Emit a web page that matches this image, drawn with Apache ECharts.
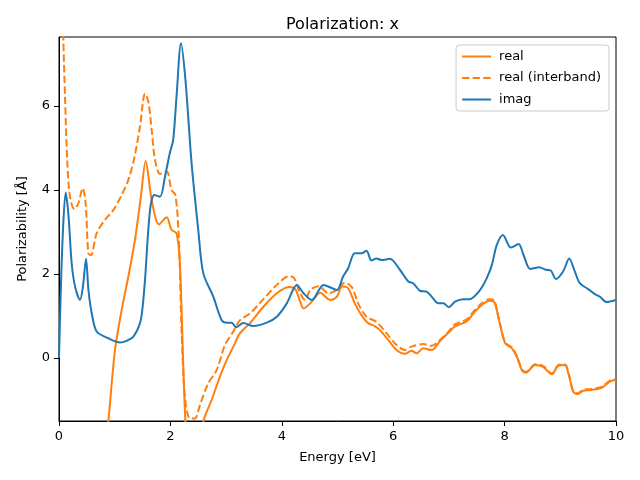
<!DOCTYPE html>
<html>
<head>
<meta charset="utf-8">
<script src="https://cdn.jsdelivr.net/npm/echarts@6/dist/echarts.min.js"></script>
<style>html,body{margin:0;padding:0;background:#fff}#c{width:640px;height:480px}</style>
</head>
<body>
<div id="c"></div>
<script>
const titleText = "Polarization: x";
const xLabel = "Energy [eV]";
const yLabel = "Polarizability [Å]";
const seriesNames = ["real", "real (interband)", "imag"];

const realData = [[0.80,-2.6],[0.886,-1.52],[1.005,0.19],[1.125,1.14],[1.245,1.94],[1.364,2.81],[1.47,3.84],[1.556,4.69],[1.664,3.76],[1.795,3.18],[1.933,3.35],[2.02,3.05],[2.11,2.97],[2.17,2.26],[2.23,-0.12],[2.27,-1.52],[2.35,-3],[2.5,-2.5],[2.59,-1.52],[2.74,-1.0],[2.89,-0.44],[3.01,-0.05],[3.13,0.27],[3.25,0.59],[3.43,0.83],[3.67,1.22],[3.91,1.54],[4.12,1.69],[4.24,1.64],[4.33,1.34],[4.39,1.18],[4.51,1.30],[4.69,1.55],[4.87,1.38],[4.99,1.46],[5.08,1.70],[5.19,1.66],[5.31,1.30],[5.43,1.02],[5.55,0.83],[5.67,0.76],[5.76,0.67],[5.91,0.43],[6.06,0.19],[6.21,0.10],[6.33,0.17],[6.42,0.11],[6.54,0.23],[6.69,0.19],[6.84,0.40],[6.99,0.60],[7.11,0.75],[7.32,0.87],[7.44,1.06],[7.59,1.26],[7.73,1.36],[7.81,1.34],[7.90,0.90],[8.01,0.35],[8.13,0.23],[8.22,0.03],[8.31,-0.29],[8.38,-0.35],[8.55,-0.17],[8.69,-0.21],[8.85,-0.39],[8.96,-0.19],[9.08,-0.17],[9.16,-0.44],[9.23,-0.80],[9.31,-0.86],[9.41,-0.78],[9.56,-0.76],[9.74,-0.71],[9.89,-0.56],[9.99,-0.52]];

const interbandData = [[0.05,10],[0.077,7.65],[0.108,6.22],[0.15,4.63],[0.197,3.84],[0.275,3.54],[0.347,3.68],[0.425,4.04],[0.479,3.68],[0.527,2.49],[0.575,2.45],[0.676,2.97],[0.826,3.29],[0.975,3.52],[1.125,3.88],[1.245,4.24],[1.35,4.75],[1.454,5.51],[1.544,6.29],[1.604,6.10],[1.664,5.43],[1.724,4.71],[1.813,4.38],[1.933,4.44],[2.02,4.0],[2.09,3.88],[2.15,2.89],[2.20,0.67],[2.26,-0.92],[2.35,-1.44],[2.44,-1.44],[2.53,-1.12],[2.68,-0.60],[2.83,-0.29],[2.98,0.31],[3.13,0.63],[3.25,0.90],[3.43,1.06],[3.67,1.40],[3.91,1.74],[4.12,1.94],[4.21,1.92],[4.33,1.54],[4.42,1.38],[4.51,1.62],[4.66,1.71],[4.84,1.54],[4.99,1.62],[5.13,1.79],[5.26,1.68],[5.37,1.30],[5.52,0.98],[5.70,0.86],[5.88,0.59],[6.06,0.31],[6.21,0.19],[6.33,0.27],[6.54,0.33],[6.69,0.29],[6.84,0.43],[6.99,0.62],[7.11,0.80],[7.32,0.92],[7.44,1.10],[7.59,1.30],[7.73,1.40],[7.81,1.38],[7.90,0.92],[8.01,0.37],[8.13,0.25],[8.22,0.05],[8.31,-0.27],[8.38,-0.33],[8.55,-0.15],[8.69,-0.19],[8.85,-0.37],[8.96,-0.17],[9.08,-0.15],[9.16,-0.42],[9.23,-0.78],[9.31,-0.84],[9.41,-0.76],[9.56,-0.74],[9.74,-0.69],[9.89,-0.54],[9.99,-0.50]];

const imagData = [[0,0],[0.03,1.5],[0.07,3.0],[0.12,3.94],[0.17,3.4],[0.227,2.26],[0.287,1.71],[0.377,1.38],[0.43,1.7],[0.485,2.36],[0.53,1.6],[0.587,1.07],[0.676,0.63],[0.886,0.47],[1.095,0.37],[1.2,0.4],[1.334,0.51],[1.454,0.83],[1.5,1.2],[1.544,1.86],[1.634,3.52],[1.711,3.88],[1.813,3.84],[1.903,4.32],[1.99,4.88],[2.05,5.19],[2.11,6.22],[2.19,7.49],[2.27,6.62],[2.38,4.64],[2.50,3.05],[2.59,2.02],[2.77,1.46],[2.92,0.90],[3.02,0.84],[3.1,0.84],[3.18,0.73],[3.31,0.83],[3.49,0.76],[3.73,0.84],[3.91,0.98],[4.09,1.30],[4.27,1.74],[4.39,1.54],[4.54,1.38],[4.75,1.74],[4.99,1.62],[5.10,1.94],[5.19,2.13],[5.31,2.49],[5.43,2.49],[5.52,2.55],[5.61,2.32],[5.70,2.37],[5.79,2.33],[5.94,2.36],[6.12,2.10],[6.27,1.82],[6.36,1.78],[6.48,1.60],[6.60,1.58],[6.69,1.46],[6.81,1.30],[6.90,1.30],[7.00,1.21],[7.11,1.34],[7.26,1.40],[7.37,1.40],[7.56,1.62],[7.68,1.90],[7.77,2.21],[7.86,2.69],[7.97,2.93],[8.11,2.63],[8.25,2.71],[8.34,2.45],[8.46,2.12],[8.62,2.16],[8.74,2.10],[8.83,2.08],[8.92,1.88],[9.05,2.06],[9.16,2.37],[9.26,2.06],[9.35,1.78],[9.50,1.64],[9.62,1.52],[9.71,1.46],[9.83,1.33],[9.99,1.38]];

const font = "DejaVu Sans";
const chart = echarts.init(document.getElementById('c'), null, {renderer: 'canvas'});
chart.setOption({
  animation: false,
  backgroundColor: '#ffffff',
  textStyle: {fontFamily: font},
  title: {
    text: titleText, left: 337.5, top: 12, textAlign: 'center',
    textStyle: {fontFamily: font, fontSize: 16, fontWeight: 'normal', color: '#000'}
  },
  legend: {
    orient: 'vertical', right: 31, top: 45,
    padding: [5, 8, 5, 5], itemGap: 8.5, itemWidth: 29, itemHeight: 13,
    borderColor: '#cccccc', borderWidth: 1, borderRadius: 3,
    backgroundColor: 'rgba(255,255,255,0.8)',
    itemStyle: {opacity: 0},
    textStyle: {fontFamily: font, fontSize: 13, color: '#000', padding: [0,0,0,3]},
    data: seriesNames
  },
  grid: {left: 59, right: 24, top: 37, bottom: 59, show: true, borderColor: '#000', borderWidth: 1, backgroundColor: 'transparent'},
  xAxis: {
    type: 'value', min: 0, max: 10, interval: 2,
    name: xLabel, nameLocation: 'middle', nameGap: 30,
    nameTextStyle: {fontFamily: font, fontSize: 13, color: '#000'},
    axisLine: {show: true, onZero: false, lineStyle: {color: '#000', width: 1}},
    axisTick: {show: true, length: 5, lineStyle: {color: '#000'}},
    axisLabel: {fontFamily: font, fontSize: 13, color: '#000', margin: 9},
    splitLine: {show: false}
  },
  yAxis: {
    type: 'value', min: -1.5, max: 7.64, splitNumber: 5,
    name: yLabel, nameLocation: 'middle', nameGap: 30,
    nameTextStyle: {fontFamily: font, fontSize: 13, color: '#000'},
    axisLine: {show: true, onZero: false, lineStyle: {color: '#000', width: 1}},
    axisTick: {show: true, length: 5, lineStyle: {color: '#000'}},
    axisLabel: {fontFamily: font, fontSize: 13, color: '#000', margin: 9, showMinLabel: false, showMaxLabel: false},
    splitLine: {show: false}
  },
  series: [
    {name: seriesNames[0], type: 'line', data: realData, symbol: 'none', smooth: 0.3, clip: true,
     color: '#ff7f0e', lineStyle: {color: '#ff7f0e', width: 2}},
    {name: seriesNames[1], type: 'line', data: interbandData, symbol: 'none', smooth: 0.3, clip: true,
     color: '#ff7f0e', lineStyle: {color: '#ff7f0e', width: 2, type: [7.4, 3.2]}},
    {name: seriesNames[2], type: 'line', data: imagData, symbol: 'none', smooth: 0.3, clip: true,
     color: '#1f77b4', lineStyle: {color: '#1f77b4', width: 2}}
  ]
});
</script>
</body>
</html>
